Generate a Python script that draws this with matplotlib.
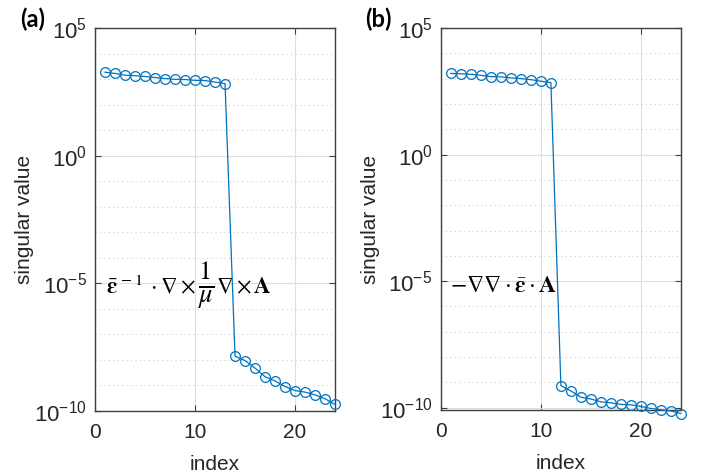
# Singular values of the two discretised operators (log scale)
import numpy as np
import matplotlib
matplotlib.use('Agg')
import matplotlib.pyplot as plt
from matplotlib.ticker import LogLocator, NullFormatter, FixedLocator

plt.rcParams['font.family'] = ['Liberation Sans', 'DejaVu Sans']

# data
idx_a = list(range(1, 25))
sv_a = [1.9e3, 1.7e3, 1.45e3, 1.38e3, 1.29e3, 1.17e3, 1.07e3, 1.0e3, 9.8e2, 9.1e2, 8.9e2, 7.8e2, 6.8e2,
        1.4e-8, 9.5e-9, 4.8e-9, 2.2e-9, 1.5e-9, 9.1e-10, 6.3e-10, 5.5e-10, 4.3e-10, 3.0e-10, 1.8e-10]

idx_b = list(range(1, 25))
sv_b = [1.6e3, 1.55e3, 1.48e3, 1.35e3, 1.2e3, 1.17e3, 1.07e3, 1.0e3, 9.1e2, 7.9e2, 6.9e2,
        7.4e-10, 4.6e-10, 2.6e-10, 2.2e-10, 1.7e-10, 1.55e-10, 1.35e-10, 1.3e-10, 1.12e-10,
        9.3e-11, 8.3e-11, 7.4e-11, 5.9e-11]

xticks = [0, 10, 20]
yticks = [1e-10, 1e-5, 1e0, 1e5]

# formula (a) is drawn in three pieces so the 1/mu fraction can be full size
formula_a1 = r'$\bar{\boldsymbol{\varepsilon}}^{\,-1}\;\cdot\nabla\times$'
formula_a2 = r'$\frac{1}{\mu}$'
formula_a3 = r'$\nabla\times\mathbf{A}$'
formula_b = r'$-\nabla\nabla\cdot\bar{\boldsymbol{\varepsilon}}\cdot\mathbf{A}$'

blue = '#0072BD'

fig = plt.figure(figsize=(7.02, 4.76), dpi=100)
ax_a = fig.add_axes([0.1353, 0.1366, 0.342, 0.804])
ax_b = fig.add_axes([0.628, 0.1387, 0.342, 0.8025])


def style(ax, ybottom):
    ax.set_yscale('log')
    ax.set_xlim(0, 24)
    ax.set_ylim(ybottom, 1e5)
    ax.xaxis.set_major_locator(FixedLocator(xticks))
    ax.yaxis.set_major_locator(FixedLocator(yticks))
    ax.yaxis.set_minor_locator(LogLocator(base=10, subs=(1.0,), numticks=30))
    ax.yaxis.set_minor_formatter(NullFormatter())
    ax.grid(True, which='major', color='#dedede', lw=0.8)
    ax.grid(True, which='minor', axis='y', color='#cfcfcf', lw=0.8, ls=(0, (1, 3)))
    ax.tick_params(which='both', direction='in', top=True, right=True,
                   labelsize=15, color='#404040', labelcolor='#262626')
    ax.tick_params(axis='x', pad=9)
    ax.tick_params(axis='y', labelsize=16, pad=6)
    ax.tick_params(which='minor', length=0)
    ax.tick_params(which='major', length=4)
    for s in ax.spines.values():
        s.set_color('#404040')
        s.set_linewidth(1.0)
    ax.set_axisbelow(True)
    ax.set_xlabel('index', fontsize=15, color='#262626', labelpad=9)
    ax.set_ylabel('singular value', fontsize=15, color='#262626', labelpad=0)


style(ax_a, 1e-10)
style(ax_b, 10 ** -10.09)

ax_a.plot(idx_a, sv_a, color=blue, lw=0.9, marker='o', ms=7, mfc='none', mew=0.9,
          clip_on=False, zorder=3)
ax_b.plot(idx_b, sv_b, color=blue, lw=0.9, marker='o', ms=7, mfc='none', mew=0.9,
          clip_on=False, zorder=3)

# baseline of formula (a)
yb = 10 ** -5.38
t1 = ax_a.text(0.045, yb, formula_a1, transform=ax_a.get_yaxis_transform(), fontsize=16.5,
               math_fontfamily='stix', va='baseline', ha='left', zorder=2)
t2 = ax_a.annotate(formula_a2, xy=(1, yb), xycoords=(t1, 'data'), xytext=(1.5, 5),
                   textcoords='offset points', fontsize=27, math_fontfamily='stix',
                   va='center', ha='left', zorder=2)
t3 = ax_a.annotate(formula_a3, xy=(1, yb), xycoords=(t2, 'data'), xytext=(1, 0),
                   textcoords='offset points', fontsize=16.5, math_fontfamily='stix',
                   va='baseline', ha='left', zorder=2)

ax_b.text(0.04, 10 ** -5.2, formula_b, transform=ax_b.get_yaxis_transform(), fontsize=17,
          math_fontfamily='stix', va='center', ha='left', zorder=2)

fig.text(0.029, 0.985, '(a)', fontsize=17, fontweight='bold', family='Lato', va='top')
fig.text(0.52, 0.985, '(b)', fontsize=17, fontweight='bold', family='Lato', va='top')

fig.savefig('out.png', dpi=100)
